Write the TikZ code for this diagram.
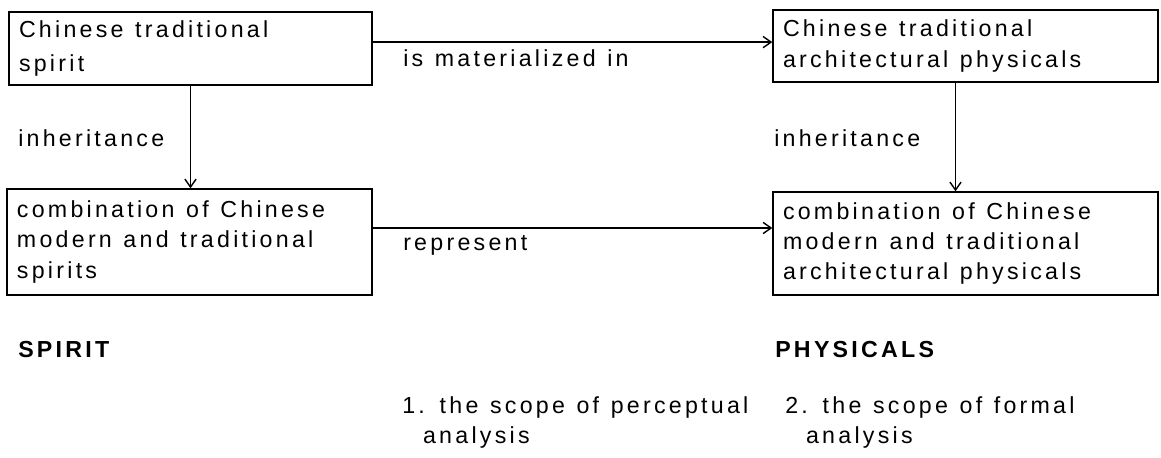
\documentclass[tikz,border=0pt]{standalone}
\usepackage{fontspec}
\setmainfont{Liberation Sans}[LetterSpace=14,WordSpace=1.2]
\usepackage{tikz}
\usetikzlibrary{arrows.meta}

\begin{document}
\begin{tikzpicture}[font=\fontsize{16.5}{21.5}\selectfont,
  box/.style={draw,line width=1pt,inner xsep=0.25cm,inner ysep=0pt,align=flush left},
  link/.style={line width=1pt,-{Straight Barb[length=2mm,width=2.8mm]}},
  lbl/.style={inner sep=0pt,anchor=base west,align=left}]
  \useasboundingbox (0,0) rectangle (29.025,11.425);
  \node[box,text width=8.575cm,minimum height=1.825cm] (trad) at (4.7625,10.2125)
    {Chinese traditional\\[2pt]spirit};
  \node[box,text width=9.125cm,minimum height=1.8cm] (tradphys) at (24.1375,10.275)
    {Chinese traditional\\architectural physicals};
  \node[box,text width=8.625cm,minimum height=2.65cm] (comb) at (4.7375,5.375)
    {combination of Chinese\\modern and traditional\\spirits};
  \node[box,text width=9.125cm,minimum height=2.575cm] (combphys) at (24.1375,5.3375)
    {combination of Chinese\\modern and traditional\\architectural physicals};
  \draw[link] ([yshift=0.16cm]trad.east) -- ([yshift=0.16cm]trad.east -| tradphys.west);
  \draw[link] ([yshift=0.35cm]comb.east) -- ([yshift=0.35cm]comb.east -| combphys.west);
  \draw[link] (trad.south) -- (trad.south |- comb.north);
  \draw[link] ([xshift=-0.25cm]tradphys.south) -- ([xshift=-0.25cm]tradphys.south |- combphys.north);
  \node[lbl] (mat) at (10.075,9.75) {is materialized in};
  \node[lbl] (inhl) at (0.45,7.75) {inheritance};
  \node[lbl] (inhr) at (19.35,7.75) {inheritance};
  \node[lbl] (rep) at (10.075,5.15) {represent};
  \node[lbl,font=\fontsize{16.5}{21.5}\selectfont\bfseries] (spirit) at (0.45,2.475) {SPIRIT};
  \node[lbl,font=\fontsize{16.5}{21.5}\selectfont\bfseries] (phys) at (19.375,2.475) {PHYSICALS};
  \node[lbl] (scope1) at (10.05,0.33) {1. the scope of perceptual\\\hspace*{0.52cm}analysis};
  \node[lbl] (scope2) at (19.625,0.33) {2. the scope of formal\\\hspace*{0.52cm}analysis};
\end{tikzpicture}
\end{document}
